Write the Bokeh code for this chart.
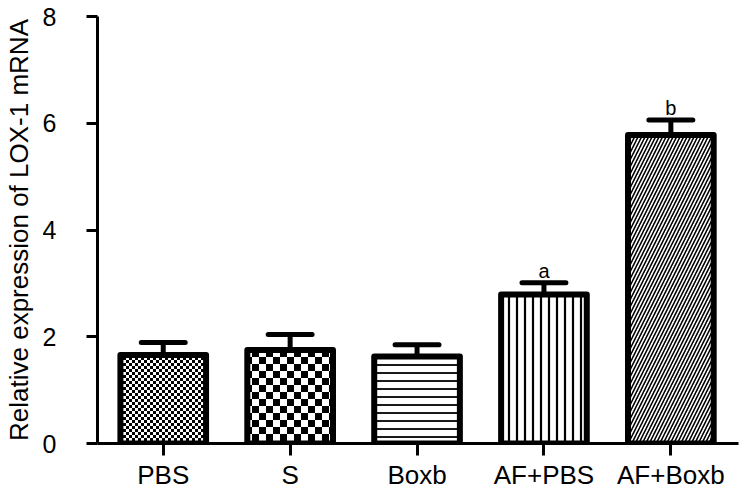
import base64
from bokeh.plotting import figure
from bokeh.models import Range1d, FixedTicker, ImageURLTexture, ColumnDataSource
from bokeh.core.properties import value
from bokeh.embed import file_html
from bokeh.resources import INLINE

# ---- data ----
categories = ["PBS", "S", "Boxb", "AF+PBS", "AF+Boxb"]
means = [1.66, 1.75, 1.63, 2.79, 5.78]
errors = [0.23, 0.29, 0.22, 0.22, 0.28]
sig_labels = ["", "", "", "a", "b"]
y_ticks = [0, 2, 4, 6, 8]
y_title = "Relative expression of LOX-1 mRNA"

# ---- styles ----
patterns = ["chk_fine", "chk_coarse", "-", "|", "/"]
hatch_scales = [6, 14, 8, 8, 7]
hatch_weights = [1, 1, 1.8, 2.2, 1.6]
FONT = "Liberation Sans"


def checker_texture(cell):
    n = 2 * cell
    svg = (f'<svg xmlns="http://www.w3.org/2000/svg" width="{n}" height="{n}" '
           f'shape-rendering="crispEdges">'
           f'<rect width="{n}" height="{n}" fill="white"/>'
           f'<rect x="0" y="0" width="{cell}" height="{cell}" fill="black"/>'
           f'<rect x="{cell}" y="{cell}" width="{cell}" height="{cell}" fill="black"/></svg>')
    uri = "data:image/svg+xml;base64," + base64.b64encode(svg.encode()).decode()
    return ImageURLTexture(url=uri)


xs = list(range(len(categories)))
tops = [m + e for m, e in zip(means, errors)]
cap_half = 0.173

src = ColumnDataSource(dict(
    x=xs, mean=means, top=tops,
    cap_l=[x - cap_half for x in xs], cap_r=[x + cap_half for x in xs],
    pat=patterns, hs=hatch_scales, hw=hatch_weights, lab=sig_labels,
))

p = figure(width=742, height=492,
           x_range=Range1d(-0.518, 4.533), y_range=Range1d(0, 8),
           output_backend="svg", toolbar_location=None,
           min_border_left=94, min_border_right=4, min_border_top=16, min_border_bottom=40)
p.outline_line_color = None
p.xgrid.visible = False
p.ygrid.visible = False

# error bars (stem + cap)
p.segment(x0="x", y0="mean", x1="x", y1="top", source=src,
          line_color="black", line_width=5)
p.segment(x0="cap_l", y0="top", x1="cap_r", y1="top", source=src,
          line_color="black", line_width=5, line_cap="round")

p.vbar(x="x", top="mean", bottom=0, width=0.675, source=src,
       fill_color="white", line_color="black", line_width=6, line_join="round",
       hatch_pattern="pat", hatch_scale="hs", hatch_weight="hw", hatch_color="black",
       hatch_extra={"chk_fine": checker_texture(3),
                    "chk_coarse": checker_texture(7)})

p.text(x="x", y="top", text="lab", source=src, y_offset=-12,
       text_align="center", text_baseline="alphabetic",
       text_font=value(FONT), text_font_size="20px", text_color="black")

# axes
xa = p.xaxis[0]
xa.ticker = FixedTicker(ticks=xs)
xa.major_label_overrides = {x: c for x, c in zip(xs, categories)}
xa.axis_line_width = 3
xa.major_tick_line_width = 3
xa.major_tick_in = 0
xa.major_tick_out = 12
xa.minor_tick_line_color = None
xa.major_label_text_font = FONT
xa.major_label_text_font_size = "26px"
xa.major_label_text_color = "black"
xa.major_label_standoff = 4

ya = p.yaxis[0]
ya.ticker = FixedTicker(ticks=y_ticks)
ya.axis_line_width = 3
ya.major_tick_line_width = 3
ya.major_tick_in = 0
ya.major_tick_out = 11
ya.minor_tick_line_color = None
ya.major_label_text_font = FONT
ya.major_label_text_font_size = "25px"
ya.major_label_text_color = "black"
ya.major_label_standoff = 30
ya.axis_label = y_title
ya.axis_label_text_font = FONT
ya.axis_label_text_font_size = "26px"
ya.axis_label_text_font_style = "normal"
ya.axis_label_text_color = "black"
ya.axis_label_standoff = 6

open("out.html", "w").write(file_html(p, INLINE))
